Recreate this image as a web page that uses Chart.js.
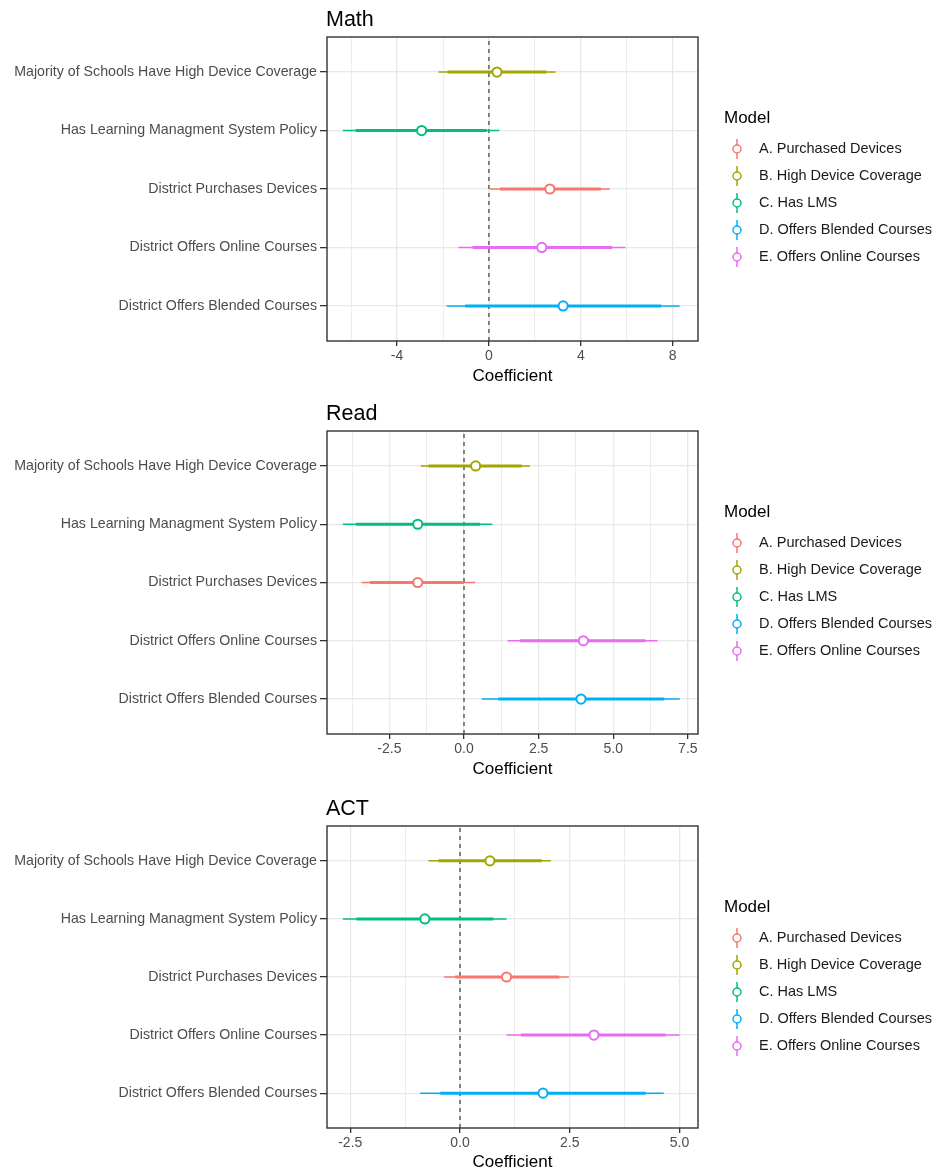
<!DOCTYPE html>
<html>
<head>
<meta charset="utf-8">
<script src="https://cdn.jsdelivr.net/npm/chart.js@4.4.0/dist/chart.umd.min.js"></script>
<style>
  html, body { margin: 0; padding: 0; background: #fff; overflow: hidden; }
  canvas { position: absolute; left: 0; }
</style>
</head>
<body>
<canvas id="mathChart" width="937" height="393" style="top:0px"></canvas>
<canvas id="readChart" width="937" height="393" style="top:393px"></canvas>
<canvas id="actChart" width="937" height="387" style="top:786px"></canvas>
<script>
// y rows, bottom to top (1..5)
var predictors = ['District Offers Blended Courses', 'District Offers Online Courses', 'District Purchases Devices',
    'Has Learning Managment System Policy', 'Majority of Schools Have High Device Coverage'];
var models = ['A. Purchased Devices', 'B. High Device Coverage', 'C. Has LMS', 'D. Offers Blended Courses', 'E. Offers Online Courses'];
var modelRow = [3, 5, 4, 1, 2];
var modelColors = ['#F8766D', '#A3A500', '#00BF7D', '#00B0F6', '#E76BF3'];

// Math (order A..E)
var mathEst  = [2.65, 0.35, -2.93, 3.23, 2.30];
var mathLo95 = [0.04, -2.20, -6.36, -1.84, -1.33];
var mathLo90 = [0.48, -1.80, -5.80, -1.04, -0.71];
var mathHi90 = [4.87, 2.50, -0.10, 7.50, 5.36];
var mathHi95 = [5.26, 2.90, 0.45, 8.30, 5.94];
var mathGrid = [-6, -4, -2, 0, 2, 4, 6, 8];
var mathTickLabels = ['', '-4', '', '0', '', '4', '', '8'];

// Read
var readEst  = [-1.55, 0.39, -1.55, 3.92, 4.00];
var readLo95 = [-3.43, -1.45, -4.06, 0.59, 1.46];
var readLo90 = [-3.15, -1.19, -3.62, 1.15, 1.88];
var readHi90 = [0.00, 1.93, 0.54, 6.71, 6.08];
var readHi95 = [0.37, 2.21, 0.95, 7.23, 6.48];
var readGrid = [-3.75, -2.5, -1.25, 0, 1.25, 2.5, 3.75, 5, 6.25, 7.5];
var readTickLabels = ['', '-2.5', '', '0.0', '', '2.5', '', '5.0', '', '7.5'];

// ACT
var actEst  = [1.06, 0.68, -0.80, 1.89, 3.05];
var actLo95 = [-0.36, -0.72, -2.67, -0.91, 1.06];
var actLo90 = [-0.11, -0.49, -2.36, -0.45, 1.39];
var actHi90 = [2.26, 1.86, 0.76, 4.23, 4.68];
var actHi95 = [2.48, 2.07, 1.06, 4.64, 5.00];
var actGrid = [-2.5, -1.25, 0, 1.25, 2.5, 3.75, 5];
var actTickLabels = ['-2.5', '', '0.0', '', '2.5', '', '5.0'];

var FONT = "'Liberation Sans', Arial, sans-serif";

// title, panel border and legend
var panelDecor = {
    id: 'panelDecor',
    afterDraw: function (chart) {
        var ctx = chart.ctx;
        var a = chart.chartArea;
        ctx.save();
        ctx.strokeStyle = '#333333';
        ctx.lineWidth = 1.4;
        ctx.strokeRect(a.left, a.top, a.right - a.left, a.bottom - a.top);

        ctx.fillStyle = '#000';
        ctx.textBaseline = 'alphabetic';
        ctx.textAlign = 'left';
        ctx.font = '21.5px ' + FONT;
        ctx.fillText(chart.options.plugins.panelDecor.title, a.left - 1, a.top - 11);

        ctx.font = '17px ' + FONT;
        ctx.textBaseline = 'middle';
        ctx.fillText('Model', 724, a.top + 81);

        ctx.font = '14.5px ' + FONT;
        for (var i = 0; i < models.length; i++) {
            var y = a.top + 112 + i * 27;
            ctx.strokeStyle = modelColors[i];
            ctx.lineWidth = 1.5;
            ctx.beginPath();
            ctx.moveTo(737, y - 10);
            ctx.lineTo(737, y + 10);
            ctx.stroke();
            ctx.beginPath();
            ctx.arc(737, y, 4, 0, Math.PI * 2);
            ctx.fillStyle = '#fff';
            ctx.fill();
            ctx.stroke();
            ctx.fillStyle = '#1a1a1a';
            ctx.fillText(models[i], 759, y);
        }
        ctx.restore();
    }
};

function makePanel(id, title, est, lo95, lo90, hi90, hi95, xMin, xMax, grid, tickLabels, padTop, padBottom, xHeight) {
    var datasets = [];
    datasets.push({
        data: [{x: 0, y: 0.4}, {x: 0, y: 5.6}],
        showLine: true, pointRadius: 0, borderColor: '#555555', borderWidth: 1.4,
        borderDash: [4, 4], order: 3
    });
    for (var i = 0; i < models.length; i++) {
        var row = modelRow[i];
        datasets.push({
            data: [{x: lo95[i], y: row}, {x: hi95[i], y: row}],
            showLine: true, pointRadius: 0, borderColor: modelColors[i], borderWidth: 1.5, order: 2
        });
        datasets.push({
            data: [{x: lo90[i], y: row}, {x: hi90[i], y: row}],
            showLine: true, pointRadius: 0, borderColor: modelColors[i], borderWidth: 3, order: 1
        });
        datasets.push({
            label: models[i],
            data: [{x: est[i], y: row}],
            pointRadius: 4.6, pointBackgroundColor: '#ffffff', pointBorderColor: modelColors[i],
            pointBorderWidth: 2, order: 0
        });
    }

    return new Chart(document.getElementById(id).getContext('2d'), {
        type: 'scatter',
        data: {datasets: datasets},
        options: {
            responsive: false,
            animation: false,
            devicePixelRatio: 1,
            layout: {padding: {top: padTop, bottom: padBottom, left: 0, right: 937 - 698}},
            plugins: {
                legend: {display: false},
                tooltip: {enabled: false},
                panelDecor: {title: title}
            },
            scales: {
                x: {
                    type: 'linear',
                    min: xMin,
                    max: xMax,
                    afterBuildTicks: function (s) {
                        s.ticks = grid.map(function (v) { return {value: v}; });
                    },
                    afterFit: function (s) { s.height = xHeight; },
                    ticks: {
                        autoSkip: false,
                        maxRotation: 0,
                        padding: 2,
                        color: '#4D4D4D',
                        font: {family: FONT, size: 14},
                        callback: function (v, idx) { return tickLabels[idx]; }
                    },
                    grid: {
                        color: '#E8E8E8',
                        lineWidth: function (c) { return tickLabels[c.index] ? 1.3 : 0.8; },
                        tickLength: 5,
                        tickColor: function (c) { return tickLabels[c.index] ? '#333333' : 'rgba(0,0,0,0)'; }
                    },
                    border: {display: false},
                    title: {
                        display: true,
                        text: 'Coefficient',
                        color: '#000',
                        font: {family: FONT, size: 17},
                        padding: {top: 0, bottom: 0}
                    }
                },
                y: {
                    type: 'linear',
                    min: 0.4,
                    max: 5.6,
                    afterBuildTicks: function (s) {
                        s.ticks = [1, 2, 3, 4, 5].map(function (v) { return {value: v}; });
                    },
                    afterFit: function (s) { s.width = 327; },
                    ticks: {
                        autoSkip: false,
                        padding: 3,
                        color: '#4D4D4D',
                        font: {family: FONT, size: 14.2},
                        callback: function (v) { return predictors[v - 1]; }
                    },
                    grid: {color: '#E8E8E8', lineWidth: 1.3, tickLength: 7, tickColor: '#333333'},
                    border: {display: false}
                }
            }
        },
        plugins: [panelDecor]
    });
}

document.addEventListener('DOMContentLoaded', function () {
    makePanel('mathChart', 'Math', mathEst, mathLo95, mathLo90, mathHi90, mathHi95,
        -7.05, 9.1, mathGrid, mathTickLabels, 37, 6, 46);
    makePanel('readChart', 'Read', readEst, readLo95, readLo90, readHi90, readHi95,
        -4.59, 7.84, readGrid, readTickLabels, 38, 6, 46);
    makePanel('actChart', 'ACT', actEst, actLo95, actLo90, actHi90, actHi95,
        -3.03, 5.42, actGrid, actTickLabels, 40, 0, 45);
});
</script>
</body>
</html>
